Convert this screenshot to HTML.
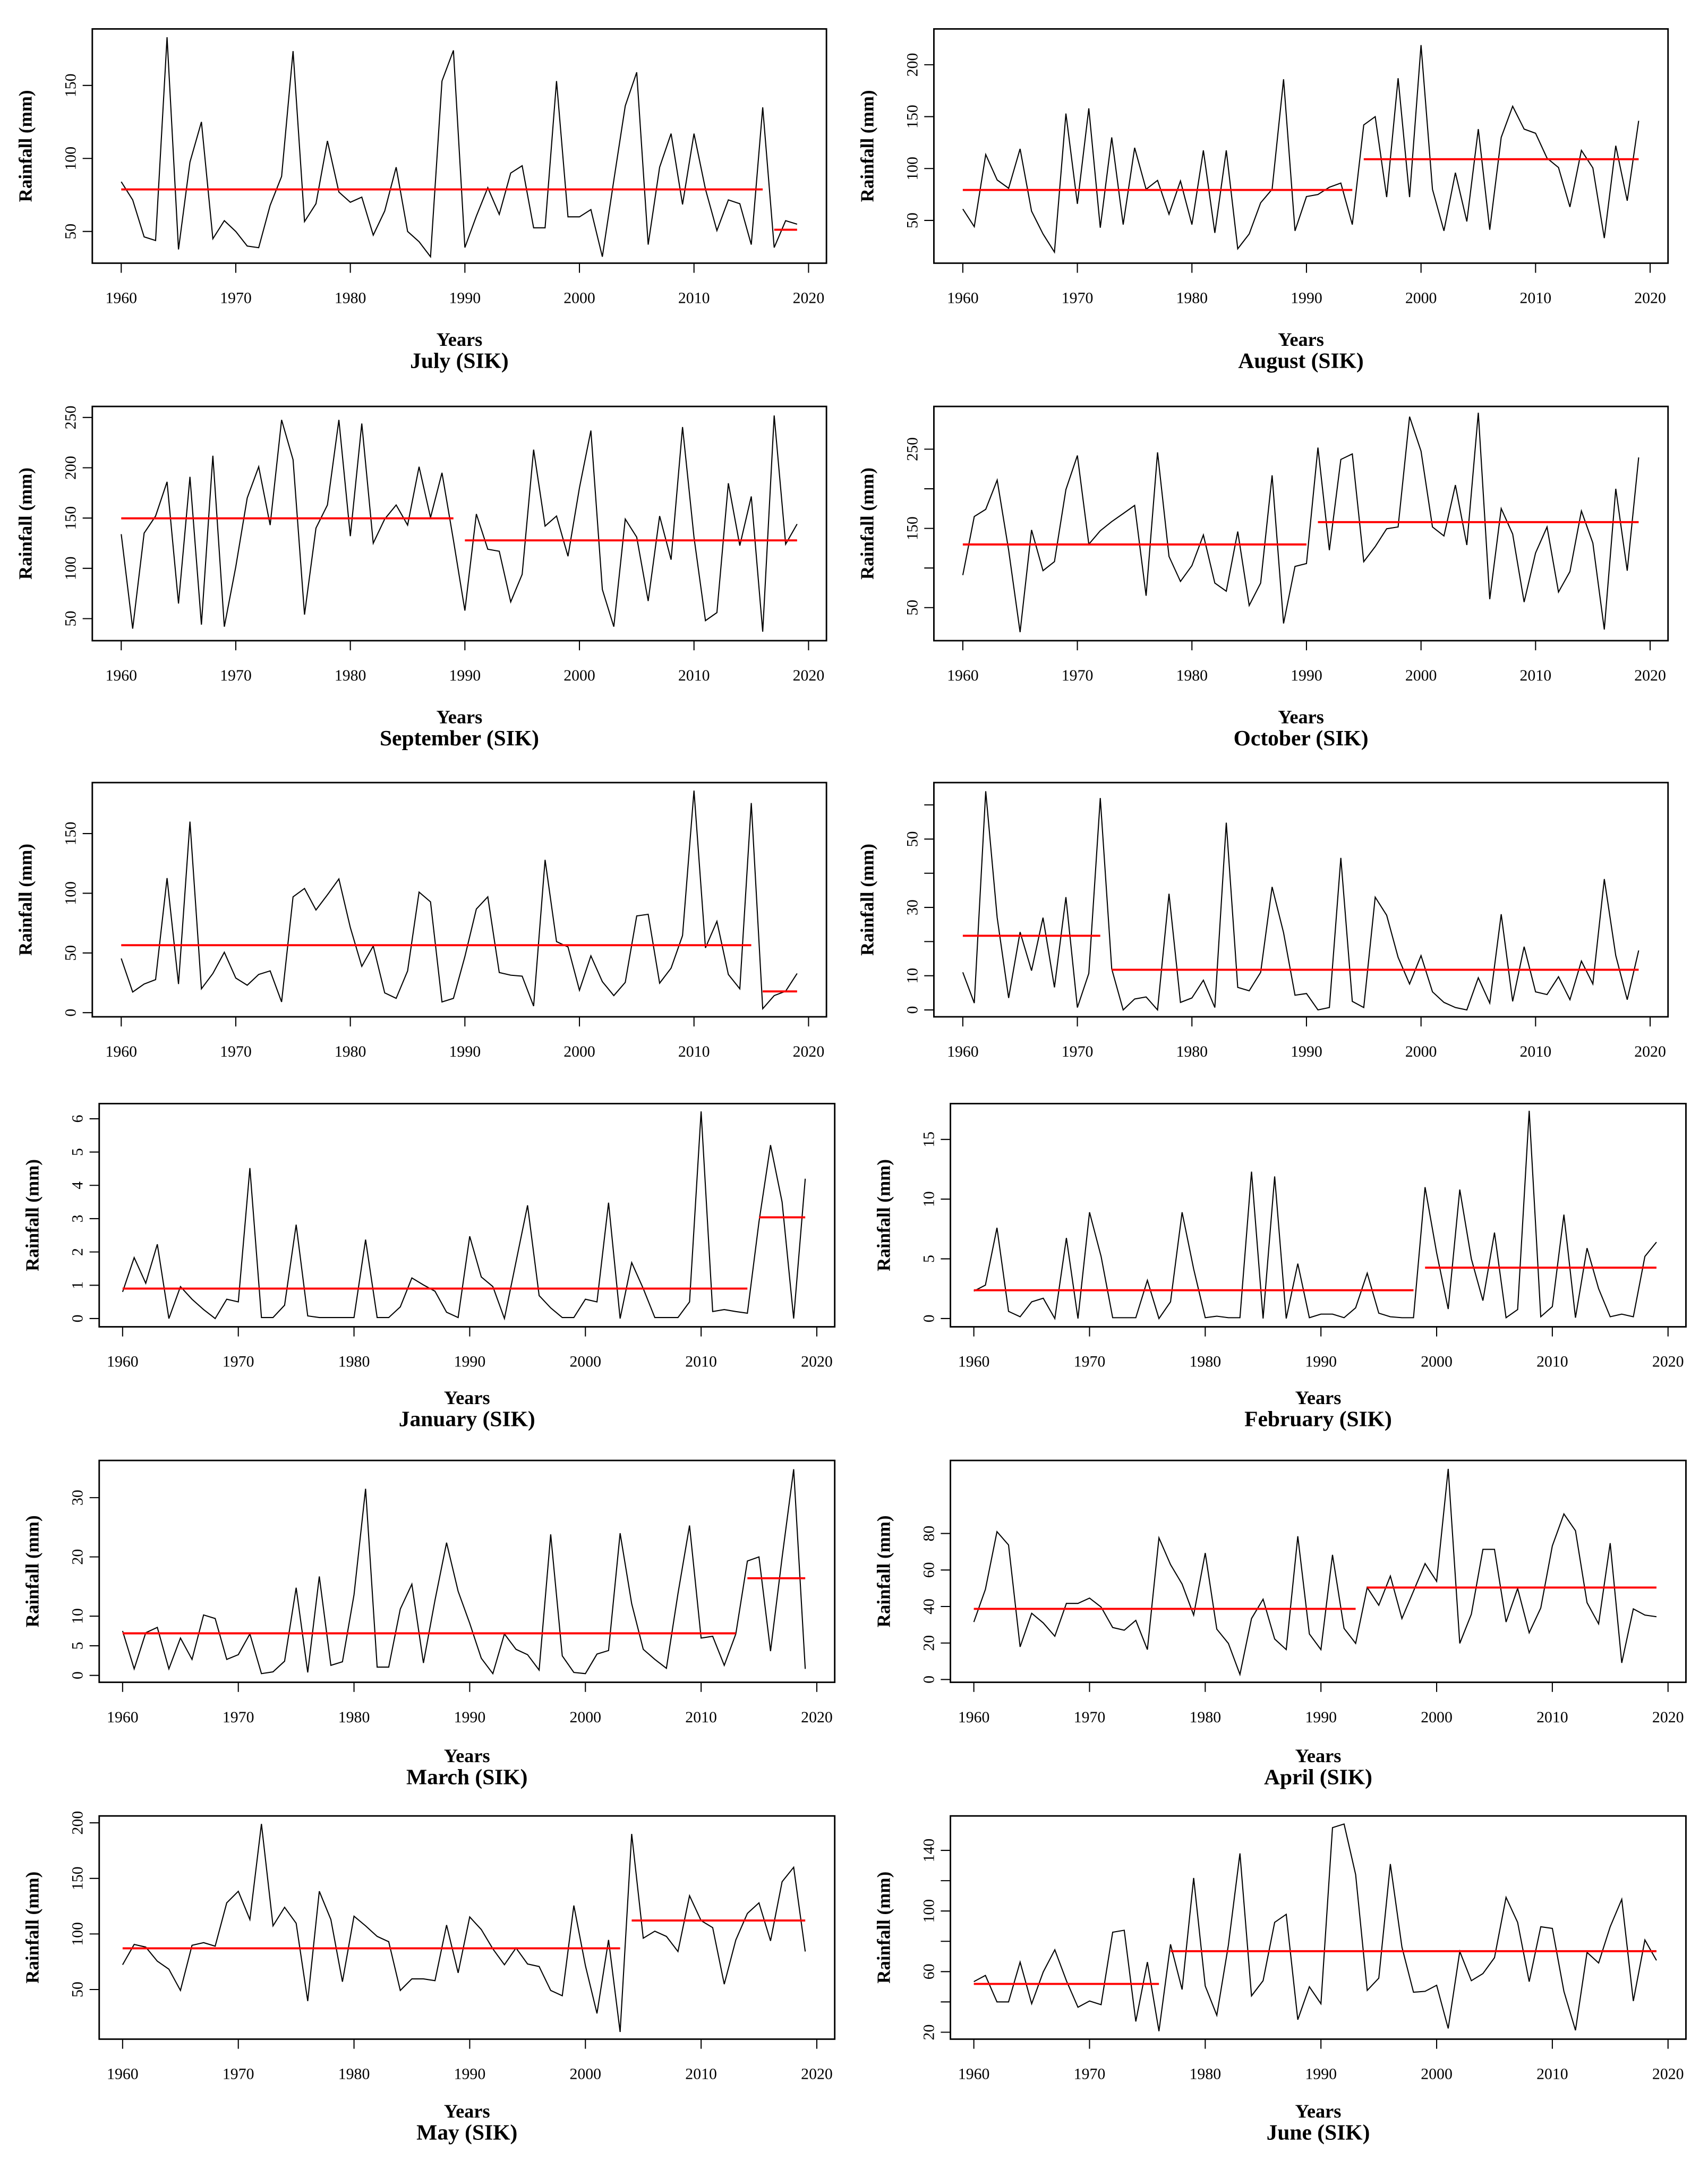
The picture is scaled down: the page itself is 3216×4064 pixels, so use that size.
<!DOCTYPE html>
<html><head><meta charset="utf-8">
<style>
html,body{margin:0;padding:0;background:#fff;}
svg{display:block;}
text{font-family:"Liberation Serif",serif;fill:#000;}
</style></head>
<body>
<svg id="fig" xmlns="http://www.w3.org/2000/svg" width="3216" height="4064" viewBox="0 0 1240 1567"></svg>
<script>
// ---- data (monthly rainfall, mm, 1960-2019) ----
const firstYear = 1960;
const julyRain = [84,71.6,46.3,43.8,183,37.7,97.5,125,45,57.4,50,40,38.9,67.9,87.7,173.5,56.8,69,112,77,70,73.5,47.5,64,94,50,43,32.7,153,174,39,60.5,80,61.7,90,95,52.5,52.5,153,60,60,65,32.7,85,136,159,41,94,117,68.5,117,79,50.6,71.6,69,41,135,39,57.4,55];
const julySegStart = [1960,2017], julySegEnd = [2016,2019], julySegMean = [78.8,51.2];
const augRain = [61,44,113.5,89,81,119,59,37,19.5,153,66,158,43,130,46,120,80,88.6,56,88,46,117.5,38,117.5,22.7,37,67,80,186,40,73,75,82,86,46,142,150,72.5,187,72.5,219,80,40,96,49,138,41,130,160,138,134,110,101,63,117.5,100.6,33,122,69,146];
const augSegStart = [1960,1995], augSegEnd = [1994,2019], augSegMean = [79.4,109];
const sepRain = [134,40,135,152,186,65,191,44,212,42,101.6,170,201,143,247.6,208,54,140,163,247.6,132,244,125,149,163,143,201,150.5,195,128,58,154,119,117,66.6,94,218,142,152,112,180,237,79,42,149,131,67.5,152,108.6,240.5,131,48,56,184.6,122.6,171.5,37,252,124,144];
const sepSegStart = [1960,1990], sepSegEnd = [1989,2019], sepSegMean = [149.7,127.8];
const octRain = [91,165,174,211,122.5,19,148,96.6,108,199,242,130,147,158.6,168.7,179,65,246,114.6,83,103,141.7,81,70.7,146,52.7,81,217,30,102,105.6,252,122.5,237,244,108,127,149.5,151.8,291,247.5,151.8,140.5,204.7,129,296,60.6,175,142.8,57,119,151.8,69.6,95.5,172,131.5,22.3,200,96.6,239.6];
const octSegStart = [1960,1991], octSegEnd = [1990,2019], octSegMean = [129.7,157.9];
const novRain = [45.4,17.3,24,27.7,112.7,24,160,20,32.8,50.6,29,23,32,35,9,97,104,86,98.7,112,71.3,38.8,55.8,16.6,12,35,101,92.8,9,12,47,86.8,97,33.6,31.4,30.6,5.5,128,59.5,55,18.8,47.6,26,14.3,25.4,81,82.4,24.7,37.3,64.6,186,54.3,76.5,32,20,175.6,3.3,14.3,18,32.8];
const novSegStart = [1960,2016], novSegEnd = [2015,2019], novSegMean = [56.5,17.8];
const decRain = [11,2,64,27,3.5,22.8,11.5,27,6.6,33,0.7,10.7,62,12,0,3.2,3.8,0,34,2.2,3.5,8.7,0.7,54.8,6.6,5.6,11,36,22.6,4.3,4.8,0,0.7,44.5,2.5,0.7,33,27.7,15.4,7.6,15.9,5.3,2.2,0.7,0,9.4,2,28,2.5,18.5,5.3,4.5,9.7,3,14.3,7.6,38.3,15.9,3,17.4];
const decSegStart = [1960,1973], decSegEnd = [1972,2019], decSegMean = [21.7,11.75];
const janRain = [0.8,1.83,1.06,2.23,0,0.96,0.58,0.27,0,0.58,0.5,4.52,0.03,0.03,0.4,2.82,0.08,0.03,0.03,0.03,0.03,2.37,0.03,0.03,0.35,1.22,1.01,0.82,0.19,0.03,2.47,1.25,0.96,0,1.7,3.4,0.69,0.32,0.03,0.03,0.58,0.5,3.48,0,1.68,0.9,0.03,0.03,0.03,0.5,6.22,0.21,0.27,0.21,0.16,2.9,5.21,3.5,0,4.2];
const janSegStart = [1960,2015], janSegEnd = [2014,2019], janSegMean = [0.9,3.04];
const febRain = [2.3,2.8,7.6,0.6,0.15,1.4,1.7,0,6.75,0,8.9,5.2,0.07,0.07,0.07,3.2,0,1.4,8.9,4.15,0.07,0.2,0.07,0.07,12.3,0,11.9,0,4.6,0.07,0.37,0.37,0.07,0.9,3.8,0.45,0.15,0.07,0.07,11,5.5,0.8,10.8,5,1.5,7.2,0.07,0.75,17.4,0.15,1,8.7,0.07,5.9,2.5,0.15,0.37,0.15,5.2,6.4];
const febSegStart = [1960,1999], febSegEnd = [1998,2019], febSegMean = [2.37,4.26];
const marRain = [7.5,1.1,7.2,8.1,1.1,6.3,2.7,10.2,9.6,2.7,3.5,7,0.3,0.6,2.4,14.8,0.5,16.7,1.7,2.3,13.6,31.5,1.4,1.4,11.2,15.4,2.1,12.7,22.4,14.2,8.8,2.9,0.3,7,4.4,3.5,0.9,23.8,3.3,0.5,0.3,3.6,4.2,24,12.1,4.4,2.7,1.2,13.8,25.3,6.3,6.6,1.7,7,19.3,20,4.1,19.9,34.8,1.1];
const marSegStart = [1960,2014], marSegEnd = [2013,2019], marSegMean = [7.1,16.4];
const aprRain = [31.5,49.4,81,73.7,17.9,36.3,31,23.7,41.7,41.7,44.6,39.7,28.5,27,32.4,16.4,77.6,63,52.3,35.3,69.3,27.6,19.8,2.8,33.4,44,22.2,16.4,78.5,25,16.4,68.3,28,19.8,50.4,40.7,56.7,33.4,48.4,63.5,53.8,115.4,19.8,35.8,71.3,71.3,31.5,49.9,25.6,39.2,73.2,90.7,81.5,42.1,30.5,74.7,9.1,38.7,35.3,34.4];
const aprSegStart = [1960,1994], aprSegEnd = [1993,2019], aprSegMean = [38.7,50.4];
const mayRain = [72.3,90.6,88.2,75.5,68.3,49.2,89.8,92.2,89,128,138.4,113,199,107.3,124,109.6,39.6,138.4,113,57,116,107.3,97.8,93,49.2,59.6,59.6,58,108,65,115.3,104,86.6,72.3,87.4,73,70.7,49.2,44.4,125.6,71.5,28.5,94.6,11.8,190,96.2,102.5,97.8,84.2,134.4,112,105.7,54.8,94.6,118.5,128,93.8,147,160,84.2];
const maySegStart = [1960,2004], maySegEnd = [2003,2019], maySegMean = [87.1,112.1];
const junRain = [53.4,57.5,40,40,66.3,38.8,59.8,74.4,54,36.5,40.6,38.2,86,87.3,27.1,66.3,20.7,78,48.2,121.8,50.5,31.2,77.4,138,44,54,92.5,97.8,28.3,50,38.8,155,157.4,124,47.6,55.7,131,76.2,46.4,47,51,22.5,73.3,54,58.7,69.2,109,92.5,53.4,89.6,88.5,47,21.3,72.7,65.7,89.6,107.7,40.6,80.9,67.4];
const junSegStart = [1960,1977], junSegEnd = [1976,2019], junSegMean = [51.9,73.5];

const xTickLabels = [1960,1970,1980,1990,2000,2010,2020];
const julyTicks=[50,100,150], augTicks=[50,100,150,200], sepTicks=[50,100,150,200,250];
const octTicks=[50,100,150,200,250], octTickLabels=["50","","150","","250"];
const novTicks=[0,50,100,150], decTicks=[0,10,20,30,40,50,60], decTickLabels=["0","10","","30","","50",""];
const janTicks=[0,1,2,3,4,5,6], febTicks=[0,5,10,15], marTicks=[0,5,10,20,30];
const aprTicks=[0,20,40,60,80], mayTicks=[50,100,150,200], junTicks=[20,40,60,80,100,120,140], junTickLabels=["20","","60","","100","","140"];

const NS = "http://www.w3.org/2000/svg";
const fig = document.getElementById('fig');
function mk(tag, attrs, parent){
  const e = document.createElementNS(NS, tag);
  for (const k in attrs) e.setAttribute(k, attrs[k]);
  parent.appendChild(e);
  return e;
}

function panel(name, cfg, values, segS, segE, segM, ticks, tickLabels){
  const g = mk('g', {}, fig);
  
  
  const xOf = yr => cfg.x60 + (yr - 1960) * (cfg.x20 - cfg.x60) / 60;
  const yOf = v => cfg.yA + (v - cfg.vA) * (cfg.yB - cfg.yA) / (cfg.vB - cfg.vA);
  // series
  const pts = values.map((v, i) => xOf(firstYear + i).toFixed(2) + ',' + yOf(v).toFixed(2)).join(' ');
  const line = mk('polyline', {points: pts, fill: 'none', stroke: '#000', 'stroke-width': 0.8, 'stroke-linejoin': 'miter'}, g);
  
  
  // mean segments
  segS.forEach((s, k) => {
    const seg = mk('line', {x1: xOf(s), x2: xOf(segE[k]), y1: yOf(segM[k]), y2: yOf(segM[k]), stroke: '#ff0000', 'stroke-width': 1.5}, g);
    
    
  });
  // box
  const box = mk('rect', {x: cfg.bx, y: cfg.by, width: cfg.bw, height: cfg.bh, fill: 'none', stroke: '#000', 'stroke-width': 1.1}, g);
  
  
  const bottom = cfg.by + cfg.bh;
  // x axis
  xTickLabels.forEach(yr => {
    const x = xOf(yr);
    const t = mk('line', {x1: x, x2: x, y1: bottom, y2: bottom + 7, stroke: '#000', 'stroke-width': 0.8}, g);
    
    
    const lb = mk('text', {x: x, y: bottom + 29, 'text-anchor': 'middle', 'font-size': 11.5}, g);
    
    
    lb.textContent = yr;
  });
  // y axis
  ticks.forEach((v, k) => {
    const y = yOf(v);
    const t = mk('line', {x1: cfg.bx - 7, x2: cfg.bx, y1: y, y2: y, stroke: '#000', 'stroke-width': 0.8}, g);
    
    
    const label = tickLabels ? tickLabels[k] : String(v);
    if (label) {
      const lx = cfg.bx - 12;
      const lb = mk('text', {x: lx, y: y, 'text-anchor': 'middle', 'font-size': 11.5, transform: 'rotate(-90 ' + lx + ' ' + y + ')'}, g);
      
      
      lb.textContent = label;
    }
  });
  // y title
  const yx = cfg.bx - 44, yy = cfg.by + cfg.bh / 2;
  const yt = mk('text', {x: yx, y: yy, 'text-anchor': 'middle', 'font-size': 13.5, 'font-weight': 'bold', transform: 'rotate(-90 ' + yx + ' ' + yy + ')'}, g);
  
  
  yt.textContent = 'Rainfall (mm)';
  if (cfg.title) {
    const cx = cfg.bx + cfg.bw / 2;
    const xt = mk('text', {x: cx, y: cfg.yearsY, 'text-anchor': 'middle', 'font-size': 14, 'font-weight': 'bold'}, g);
    
    
    xt.textContent = 'Years';
    const tt = mk('text', {x: cx, y: cfg.yearsY + 16, 'text-anchor': 'middle', 'font-size': 16, 'font-weight': 'bold'}, g);
    
    
    tt.textContent = cfg.title;
  }
}

panel('july', {bx:67,by:21,bw:533,bh:170,x60:88,x20:587,vA:50,yA:168,vB:150,yB:62,title:'July (SIK)',yearsY:251}, julyRain, julySegStart, julySegEnd, julySegMean, julyTicks);
panel('august', {bx:678,by:21,bw:533,bh:170,x60:699,x20:1198,vA:50,yA:160,vB:200,yB:47,title:'August (SIK)',yearsY:251}, augRain, augSegStart, augSegEnd, augSegMean, augTicks);
panel('september', {bx:67,by:295,bw:533,bh:170,x60:88,x20:587,vA:50,yA:449,vB:250,yB:303,title:'September (SIK)',yearsY:525}, sepRain, sepSegStart, sepSegEnd, sepSegMean, sepTicks);
panel('october', {bx:678,by:295,bw:533,bh:170,x60:699,x20:1198,vA:50,yA:441,vB:250,yB:326,title:'October (SIK)',yearsY:525}, octRain, octSegStart, octSegEnd, octSegMean, octTicks, octTickLabels);
panel('november', {bx:67,by:568,bw:533,bh:170,x60:88,x20:587,vA:0,yA:735,vB:150,yB:605}, novRain, novSegStart, novSegEnd, novSegMean, novTicks);
panel('december', {bx:678,by:568,bw:533,bh:170,x60:699,x20:1198,vA:0,yA:733,vB:50,yB:609}, decRain, decSegStart, decSegEnd, decSegMean, decTicks, decTickLabels);
panel('january', {bx:72,by:801,bw:534,bh:162,x60:89,x20:593,vA:0,yA:957,vB:6,yB:812,title:'January (SIK)',yearsY:1019}, janRain, janSegStart, janSegEnd, janSegMean, janTicks);
panel('february', {bx:690,by:801,bw:534,bh:162,x60:707,x20:1211,vA:0,yA:957,vB:15,yB:827,title:'February (SIK)',yearsY:1019}, febRain, febSegStart, febSegEnd, febSegMean, febTicks);
panel('march', {bx:72,by:1060,bw:534,bh:161,x60:89,x20:593,vA:0,yA:1216,vB:30,yB:1087,title:'March (SIK)',yearsY:1279}, marRain, marSegStart, marSegEnd, marSegMean, marTicks);
panel('april', {bx:690,by:1060,bw:534,bh:161,x60:707,x20:1211,vA:0,yA:1219,vB:80,yB:1113,title:'April (SIK)',yearsY:1279}, aprRain, aprSegStart, aprSegEnd, aprSegMean, aprTicks);
panel('may', {bx:72,by:1318,bw:534,bh:162,x60:89,x20:593,vA:50,yA:1444,vB:200,yB:1323,title:'May (SIK)',yearsY:1537}, mayRain, maySegStart, maySegEnd, maySegMean, mayTicks);
panel('june', {bx:690,by:1318,bw:534,bh:162,x60:707,x20:1211,vA:20,yA:1475,vB:140,yB:1343,title:'June (SIK)',yearsY:1537}, junRain, junSegStart, junSegEnd, junSegMean, junTicks, junTickLabels);
</script>
</body></html>
